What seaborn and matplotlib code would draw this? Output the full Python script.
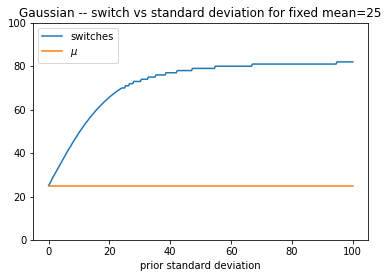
import matplotlib
matplotlib.use("Agg")
import matplotlib.pyplot as plt
import seaborn as sns
import pandas as pd

# switches curve (prior standard deviation, number of switches)
switch_sd = [0.0, 0.4, 0.8, 1.1, 1.5, 1.9, 2.3, 2.7, 3.1, 3.5, 3.9, 4.3, 4.7, 5.1, 5.5,
             5.9, 6.3, 6.7, 7.2, 7.6, 8.0, 8.5, 8.9, 9.4, 9.8, 10.3, 10.8, 11.3, 11.8,
             12.3, 12.9, 13.4, 14.0, 14.6, 15.2, 15.8, 16.5, 17.2, 17.9, 18.6, 19.4,
             20.2, 21.1, 22.0, 23.0, 24.1, 25.0, 25.3, 26.3, 26.6, 27.7, 28.0, 30.2,
             30.5, 32.5, 32.8, 35.0, 35.3, 38.3, 38.6, 42.0, 42.3, 47.0, 47.3, 54.5,
             54.8, 66.7, 67.0, 94.5, 94.8, 100.0]
switch_values = [25, 26, 27, 28, 29, 30, 31, 32, 33, 34, 35, 36, 37, 38, 39,
                 40, 41, 42, 43, 44, 45, 46, 47, 48, 49, 50, 51, 52, 53,
                 54, 55, 56, 57, 58, 59, 60, 61, 62, 63, 64, 65,
                 66, 67, 68, 69, 70, 70, 71, 71, 72, 72, 73, 73,
                 74, 74, 75, 75, 76, 76, 77, 77, 78, 78, 79, 79,
                 80, 80, 81, 81, 82, 82]

mu_sd = [0, 100]
mu_values = [25, 25]

x_ticks = [0, 20, 40, 60, 80, 100]
y_ticks = [0, 20, 40, 60, 80, 100]

df_sw = pd.DataFrame({"sd": switch_sd, "val": switch_values})
df_mu = pd.DataFrame({"sd": mu_sd, "val": mu_values})

fig = plt.figure(figsize=(389 / 72, 278 / 72), dpi=72)
ax = fig.add_axes([0.0857, 0.1367, 0.946 - 0.0857, 0.918 - 0.1367])

sns.lineplot(data=df_sw, x="sd", y="val", ax=ax, color="#1f77b4", label="switches",
             estimator=None, sort=False, linewidth=1.5)
sns.lineplot(data=df_mu, x="sd", y="val", ax=ax, color="#ff7f0e", label=r"$\mu$",
             estimator=None, sort=False, linewidth=1.5)

ax.set_xlim(-5, 105)
ax.set_ylim(0, 100)
ax.set_xticks(x_ticks)
ax.set_yticks(y_ticks)
ax.set_xlabel("prior standard deviation")
ax.set_ylabel("")
ax.set_title("Gaussian -- switch vs standard deviation for fixed mean=25")
ax.legend(loc="upper left")

fig.savefig("out.png", dpi=72)
